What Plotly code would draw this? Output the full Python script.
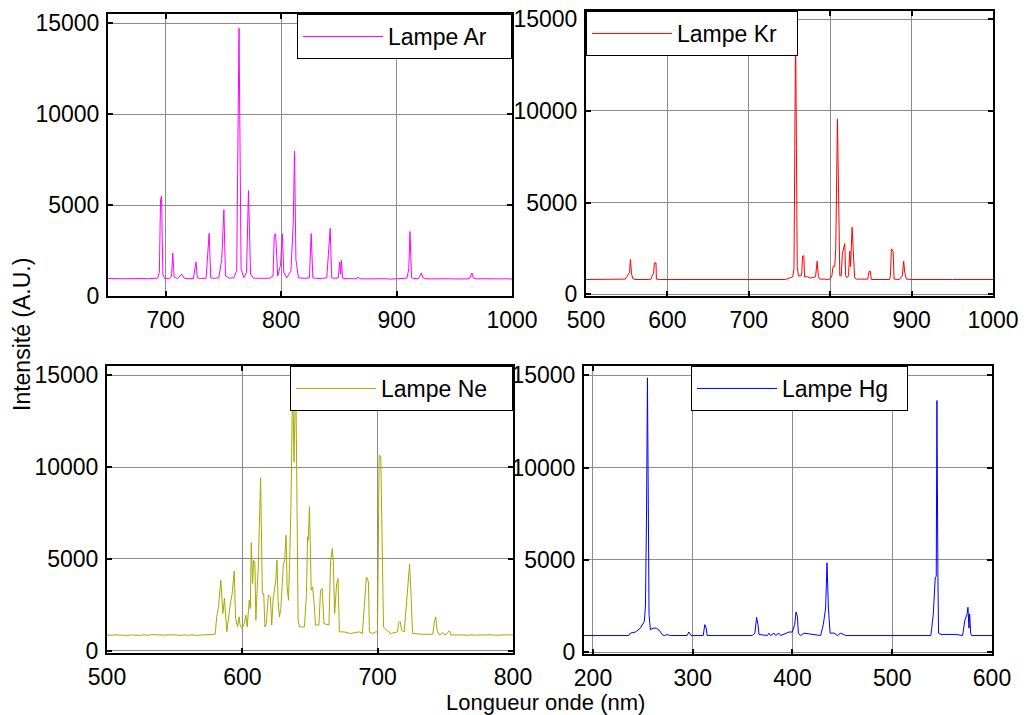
import plotly.graph_objects as go

# ---------------- data ----------------
ar_wl = [650, 655, 660, 665, 670, 675, 680, 685, 690, 693,
         694.5, 695.5, 696.4, 697.5, 699, 703, 705, 706.1, 707.3, 710,
         714, 716, 720, 724, 726.2, 727.4, 730, 735, 737.6, 739,
         742, 746, 748.5, 750.4, 751.8, 755, 759, 761.5, 763.5, 765.3,
         767.6, 770, 771.7, 773.5, 776, 780, 785, 790, 793, 794,
         795.2, 797, 799.5, 801, 802.3, 805, 808.5, 810.5, 811.6, 812.8,
         815, 820, 824.5, 826, 827.5, 830, 835, 839.5, 841.1, 842.5,
         843.8, 846, 849.5, 850.7, 851.5, 852.2, 853.2, 856, 860, 865,
         866.5, 868, 872, 876, 880, 885, 890, 895, 900, 905,
         909, 910.6, 911.6, 913, 915, 919, 920.5, 921.5, 922.8, 925,
         930, 935, 940, 945, 950, 955, 960, 963.5, 965.3, 966.5,
         970, 975, 980, 985, 990, 995, 1000]
ar_val = [960, 940, 955, 950, 965, 945, 960, 950, 955, 980,
          1300, 5300, 5500, 1200, 960, 950, 1100, 2360, 1050, 960,
          1200, 980, 950, 960, 1870, 1000, 960, 980, 3450, 1000,
          970, 1000, 2000, 4740, 1100, 980, 1000, 1400, 14720, 1500,
          1000, 1300, 5800, 1200, 980, 960, 970, 980, 1100, 3300,
          3420, 1100, 1700, 3420, 1300, 1000, 1400, 4000, 7960, 2000,
          1000, 970, 1000, 3430, 1000, 970, 960, 1000, 2820, 3720,
          1000, 970, 1000, 1870, 1200, 1960, 980, 950, 960, 940,
          1050, 950, 940, 950, 930, 945, 950, 930, 935, 950,
          980, 1500, 3540, 1000, 960, 950, 1100, 1270, 1000, 950,
          940, 955, 935, 950, 940, 945, 935, 980, 1270, 980,
          940, 950, 935, 950, 940, 945, 935]

kr_wl = [500, 520, 540, 548, 551, 553.5, 554.5, 556, 557.5, 560,
         575, 580, 581.8, 583, 584, 586, 586.5, 590, 650, 700,
         745, 750, 754, 755.5, 756.5, 757.5, 758.5, 759.5, 761, 764,
         765, 766, 767.6, 768.5, 772, 775.8, 778, 782, 784, 785.5,
         787.5, 790, 793.5, 796, 800, 802, 803.6, 805.6, 806.8, 808.9,
         810.5, 811.8, 813.5, 815, 817.9, 819, 820.5, 822.5, 824, 825,
         826.9, 828.5, 830, 832, 840, 846, 847.8, 849.4, 850.5, 860,
         873, 874, 875.2, 877.3, 878.5, 885, 888.5, 890.3, 891.5, 893.6,
         900, 950, 972, 973.4, 975, 1000]
kr_val = [800, 800, 800, 820, 1000, 1200, 1890, 1100, 850, 800,
          800, 820, 1070, 1100, 1710, 1700, 820, 800, 800, 800,
          800, 880, 950, 1400, 8000, 14500, 8000, 1500, 1000, 1000,
          1100, 2070, 2100, 950, 950, 880, 900, 950, 1800, 950,
          820, 830, 820, 800, 830, 1000, 1520, 1520, 2500, 9560,
          3000, 1000, 1000, 2250, 2760, 1000, 900, 1000, 2340, 1500,
          3650, 2300, 900, 820, 800, 820, 1250, 1250, 800, 800,
          800, 1000, 2470, 2340, 820, 800, 1000, 1800, 1200, 820,
          800, 800, 800, 830, 800, 800]

ne_wl = [500, 503, 506, 509, 512, 515, 518, 521, 524, 527,
         530, 533, 536, 539, 542, 545, 548, 551, 554, 557,
         560, 563, 566, 569, 572, 575, 579.9, 581.1, 582.4, 584.1,
         585.6, 586.8, 587.6, 588.5, 591, 592.5, 594, 595, 596.5, 597.5,
         598.4, 599.7, 601.4, 602.6, 603.6, 605.1, 605.9, 606.6, 607.6, 608.3,
         609.3, 610, 610.8, 611.8, 613.5, 614.8, 615.8, 616.7, 617.7, 619.2,
         620.7, 621.7, 622.7, 623.7, 624.7, 625.6, 626.4, 627.4, 628.4, 629.4,
         630.3, 631.3, 632.3, 633.1, 634.1, 635, 636, 637.2, 638.2, 639.5,
         640.5, 641.2, 642.2, 645.9, 647.4, 648.2, 648.7, 649.6, 650.9, 651.9,
         652.9, 654.1, 656.6, 657.8, 659, 660.3, 664, 665.2, 666.5, 667.2,
         668.2, 669.7, 670.7, 671.7, 675.1, 680, 686.3, 688.7, 690.5, 691.7,
         693.2, 693.9, 696.1, 698.6, 699.9, 701.1, 702.3, 704.3, 706, 709.7,
         714.7, 715.4, 716.7, 717.7, 719.6, 722.1, 723.6, 724.6, 725.8, 733.2,
         740.7, 741.9, 742.9, 743.9, 745.6, 748.1, 750, 753, 754.3, 757,
         760, 763, 766, 769, 772, 775, 778, 781, 784, 787,
         790, 793, 796, 800]
ne_val = [860, 840, 870, 845, 860, 835, 865, 850, 840, 870,
          845, 880, 860, 875, 850, 870, 845, 860, 840, 870,
          845, 865, 840, 860, 880, 900, 900, 1850, 2390, 3840,
          2030, 2850, 1950, 1030, 2480, 3120, 4330, 1760, 1300, 1850,
          1400, 1210, 1480, 1940, 1300, 2750, 2300, 5890, 3660, 4930,
          4750, 1660, 3120, 4570, 9420, 3120, 3120, 1300, 1480, 3030,
          2940, 1400, 2750, 3480, 3840, 4930, 2750, 1850, 2300, 3480,
          4660, 4930, 6290, 3480, 2750, 4930, 8190, 15000, 10270, 15000,
          6740, 1670, 1300, 1300, 3120, 6200, 6020, 7860, 3300, 3480,
          2750, 1400, 1400, 3300, 3390, 1480, 1400, 4840, 5560, 4840,
          2030, 3660, 3930, 1030, 1030, 940, 1030, 940, 2750, 4020,
          3750, 1030, 940, 1030, 1030, 10640, 10580, 1300, 1160, 940,
          1030, 1520, 1580, 1120, 1030, 3120, 4710, 3120, 940, 900,
          900, 1580, 1850, 1120, 850, 980, 860, 1090, 850, 870,
          845, 860, 840, 870, 850, 865, 840, 860, 875, 845,
          860, 840, 870, 860]

hg_wl = [191, 200, 220, 235.8, 237.5, 242.5, 247.5, 251.5, 252.6, 253.6,
         254.6, 255.6, 256.2, 257.6, 260.3, 263.6, 266.9, 269.3, 271.6, 274.3,
         277.7, 294.4, 296.1, 298.4, 310.5, 312.1, 313.5, 314.5, 359.7, 362.3,
         364, 365.4, 366.4, 374.7, 376.4, 378, 381.4, 383.1, 386.4, 388.1,
         393.1, 396.5, 399.8, 402.2, 403.5, 404.9, 405.9, 408.2, 411.5, 421.6,
         428.2, 430.9, 433.2, 434.6, 436, 437.7, 441.7, 445, 448.4, 453.4,
         538.7, 541.1, 543.1, 544.1, 544.8, 545.8, 546.4, 548.8, 563.8, 570.5,
         572.9, 574.9, 575.9, 576.9, 577.6, 578.6, 579.6, 600]
hg_val = [900, 900, 900, 900, 1030, 1090, 1300, 1670, 2500, 7000,
          14860, 7000, 2030, 1210, 1300, 1300, 1160, 950, 900, 950,
          900, 900, 1090, 900, 900, 1490, 1300, 900, 900, 1030,
          1880, 1490, 960, 900, 1030, 900, 1030, 900, 1030, 900,
          1030, 1090, 1090, 1490, 2170, 1940, 1030, 900, 1030, 960,
          900, 1490, 2390, 4840, 2390, 1030, 1030, 900, 1030, 900,
          900, 2030, 4020, 4110, 13630, 4020, 1030, 960, 960, 900,
          1760, 2030, 2430, 1300, 2070, 1030, 900, 900]

series_names = ["Lampe Ar", "Lampe Kr", "Lampe Ne", "Lampe Hg"]
series_colors = ["#FF00FF", "#FF0000", "#A8A800", "#0000FF"]
x_ranges = [[650, 1000], [500, 1000], [500, 800], [191, 600]]
y_ranges = [[0, 15500], [-100, 15450], [-120, 15500], [-100, 15500]]
y_tickvals = [0, 5000, 10000, 15000]
y_ticktext = ["0", "5000", "10000", "15000"]
x_title = "Longueur onde (nm)"
y_title = "Intensité (A.U.)"

assert len(ar_wl) == len(ar_val)
assert len(kr_wl) == len(kr_val)
assert len(ne_wl) == len(ne_val)
assert len(hg_wl) == len(hg_val)

W, H = 1030, 715
# plot-area boxes in pixels: (left, right, top, bottom)
boxes = [(108, 512, 14, 296), (586, 993, 11, 296),
         (107, 513, 366, 653), (584, 992, 366, 654)]
# legend anchor (x px, xanchor) and entry width (px)
legend_pos = [(512, "right"), (586, "left"), (513, "right"), (691, "left")]
legend_entry_w = [118, 115, 126, 120]

FONT = "Liberation Sans, Arial, sans-serif"
FS = 23

fig = go.Figure()
data = [(ar_wl, ar_val), (kr_wl, kr_val), (ne_wl, ne_val), (hg_wl, hg_val)]
legend_ids = ["legend", "legend2", "legend3", "legend4"]

for i, ((xs, ys), name, col) in enumerate(zip(data, series_names, series_colors)):
    k = "" if i == 0 else str(i + 1)
    fig.add_trace(go.Scatter(x=xs, y=ys, mode="lines", name=name,
                             line=dict(color=col, width=1),
                             xaxis="x" + k, yaxis="y" + k,
                             legend=legend_ids[i], showlegend=True))

layout = dict(width=W, height=H, margin=dict(l=0, r=0, t=0, b=0),
              paper_bgcolor="white", plot_bgcolor="white",
              font=dict(family=FONT, size=FS, color="black"))

for i, (l, r, t, b) in enumerate(boxes):
    k = "" if i == 0 else str(i + 1)
    common = dict(showline=True, linecolor="black", linewidth=2, mirror="ticks",
                  ticks="inside", ticklen=5, tickcolor="black", tickwidth=1.5,
                  showgrid=True, gridcolor="#8c8c8c", gridwidth=1, zeroline=False,
                  tickfont=dict(family=FONT, size=FS, color="black"),
                  ticklabelstandoff=2, automargin=False)
    layout["xaxis" + k] = dict(common, domain=[l / W, r / W], anchor="y" + k,
                               range=x_ranges[i], dtick=100, tick0=0)
    layout["yaxis" + k] = dict(common, domain=[1 - b / H, 1 - t / H], anchor="x" + k,
                               range=y_ranges[i], tickvals=y_tickvals,
                               ticktext=y_ticktext)
    px, xa = legend_pos[i]
    layout[legend_ids[i]] = dict(bgcolor="white", bordercolor="black", borderwidth=1,
                                 font=dict(family=FONT, size=FS, color="black"),
                                 yanchor="top", y=1 - t / H, x=px / W, xanchor=xa,
                                 orientation="h", entrywidth=legend_entry_w[i],
                                 itemwidth=80)

fig.update_layout(**layout)

fig.add_annotation(text=x_title, x=545 / W, y=1 - 702 / H, xref="paper", yref="paper",
                   showarrow=False, font=dict(family=FONT, size=22, color="black"),
                   xanchor="center", yanchor="middle")
fig.add_annotation(text=y_title, x=22 / W, y=1 - 335 / H, xref="paper", yref="paper",
                   showarrow=False, textangle=-90,
                   font=dict(family=FONT, size=FS, color="black"),
                   xanchor="center", yanchor="middle")

fig.write_html("out.html", config={"displayModeBar": False},
               post_script="document.body.style.margin='0';document.body.style.padding='0';")
